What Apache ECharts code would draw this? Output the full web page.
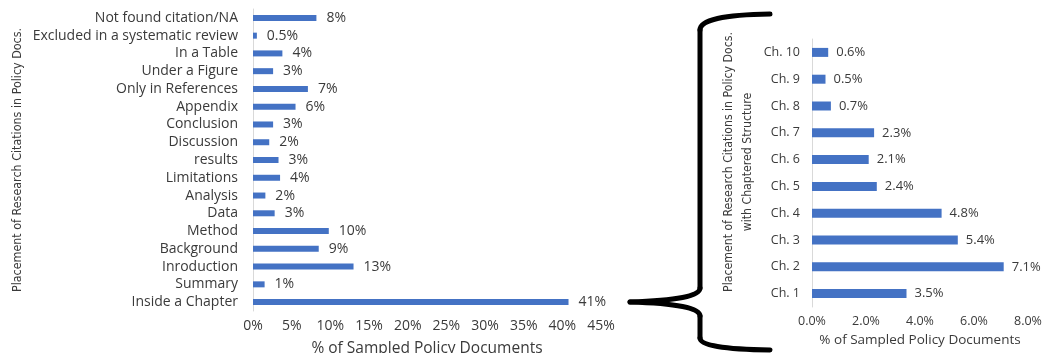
<!DOCTYPE html>
<html>
<head>
<meta charset="utf-8">
<script src="https://cdn.jsdelivr.net/npm/echarts@6/dist/echarts.min.js"></script>
<style>
html,body{margin:0;padding:0;background:#fff;}
#c{width:1048px;height:353px;}
</style>
</head>
<body>
<div id="c"></div>
<script>
// Left chart: placement of research citations (top to bottom as shown)
const leftCategories = ["Not found citation/NA","Excluded in a systematic review","In a Table","Under a Figure","Only in References","Appendix","Conclusion","Discussion","results","Limitations","Analysis","Data","Method","Background","Inroduction","Summary","Inside a Chapter"];
const leftValues = [8.2,0.5,3.8,2.6,7.1,5.5,2.6,2.1,3.3,3.5,1.6,2.8,9.8,8.5,13.0,1.5,40.8];
const leftLabels = ["8%","0.5%","4%","3%","7%","6%","3%","2%","3%","4%","2%","3%","10%","9%","13%","1%","41%"];
const leftTicks = [0,5,10,15,20,25,30,35,40,45];

// Right chart: chaptered structure (top to bottom as shown)
const rightCategories = ["Ch. 10","Ch. 9","Ch. 8","Ch. 7","Ch. 6","Ch. 5","Ch. 4","Ch. 3","Ch. 2","Ch. 1"];
const rightValues = [0.6,0.5,0.7,2.3,2.1,2.4,4.8,5.4,7.1,3.5];
const rightTicks = [0,2,4,6,8];

const xName = "% of Sampled Policy Documents";
const leftYName = "Placement of Research Citations in Policy Docs.";
const rightYName = "Placement of Research Citations in Policy Docs.\nwith Chaptered Structure";

const FONT = "'Open Sans', sans-serif";
const NARROW = "'Liberation Sans Narrow','DejaVu Sans Condensed','Open Sans',sans-serif";
const TXT = "#3a3a3a";
const BAR = "#4472C4";

const braceStyle = {stroke:'#000', lineWidth:5, fill:null, lineCap:'round'};
function curve(x1,y1,cx,cy,x2,y2){
  return {type:'bezierCurve', shape:{x1:x1,y1:y1,cpx1:cx,cpy1:cy,x2:x2,y2:y2}, style:braceStyle};
}
function seg(x1,y1,x2,y2){
  return {type:'line', shape:{x1:x1,y1:y1,x2:x2,y2:y2}, style:braceStyle};
}

const chart = echarts.init(document.getElementById('c'), null, {renderer:'canvas'});
chart.setOption({
  animation:false,
  backgroundColor:'#fff',
  grid:[
    {left:253, top:9, width:348, height:302, containLabel:false, outerBoundsMode:'none'},
    {left:812, top:39, width:216, height:268, containLabel:false, outerBoundsMode:'none'}
  ],
  xAxis:[
    {gridIndex:0, type:'value', min:0, max:45, interval:5,
     axisLine:{show:false}, axisTick:{show:false}, splitLine:{show:false},
     axisLabel:{formatter:v=>v+'%', color:TXT, fontFamily:FONT, fontSize:14, margin:8, hideOverlap:false},
     name:xName, nameLocation:'middle', nameGap:30,
     nameTextStyle:{color:TXT, fontFamily:FONT, fontSize:15.5}},
    {gridIndex:1, type:'value', min:0, max:8, interval:2,
     axisLine:{show:false}, axisTick:{show:false}, splitLine:{show:false},
     axisLabel:{formatter:v=>v.toFixed(1)+'%', color:TXT, fontFamily:FONT, fontSize:12.5, margin:8, hideOverlap:false},
     name:xName, nameLocation:'middle', nameGap:26,
     nameTextStyle:{color:TXT, fontFamily:FONT, fontSize:13.5}}
  ],
  yAxis:[
    {gridIndex:0, type:'category', data:leftCategories, inverse:true,
     axisLine:{show:true, lineStyle:{color:'#d9d9d9', width:1}}, axisTick:{show:false},
     axisLabel:{color:TXT, fontFamily:FONT, fontSize:14, margin:15, interval:0, hideOverlap:false},
     name:leftYName, nameLocation:'middle', nameGap:229, nameRotate:90,
     nameTextStyle:{color:TXT, fontFamily:NARROW, fontSize:12.4}},
    {gridIndex:1, type:'category', data:rightCategories, inverse:true,
     axisLine:{show:true, lineStyle:{color:'#d9d9d9', width:1}}, axisTick:{show:false},
     axisLabel:{color:TXT, fontFamily:FONT, fontSize:12.5, margin:12, interval:0, hideOverlap:false}}
  ],
  series:[
    {type:'bar', xAxisIndex:0, yAxisIndex:0, data:leftValues, barWidth:6,
     itemStyle:{color:BAR},
     label:{show:true, position:'right', distance:10, color:TXT, fontFamily:FONT, fontSize:14,
            formatter:p=>leftLabels[p.dataIndex]}},
    {type:'bar', xAxisIndex:1, yAxisIndex:1, data:rightValues, barWidth:9,
     itemStyle:{color:BAR},
     label:{show:true, position:'right', distance:8, color:TXT, fontFamily:FONT, fontSize:13,
            formatter:p=>p.value.toFixed(1)+'%'}}
  ],
  graphic:[
    curve(770,14,700,15,700,30),
    seg(700,30,700,288),
    curve(700,288,700,300,630,302),
    curve(630,302,700,304,700,316),
    seg(700,316,700,338),
    curve(700,338,700,349,770,350),
    {type:'text', x:738, y:162, rotation:Math.PI/2,
     style:{text:rightYName, fill:TXT, font:"12.2px 'Liberation Sans Narrow','DejaVu Sans Condensed','Open Sans',sans-serif",
            align:'center', verticalAlign:'middle', lineHeight:19}}
  ]
});
</script>
</body>
</html>
